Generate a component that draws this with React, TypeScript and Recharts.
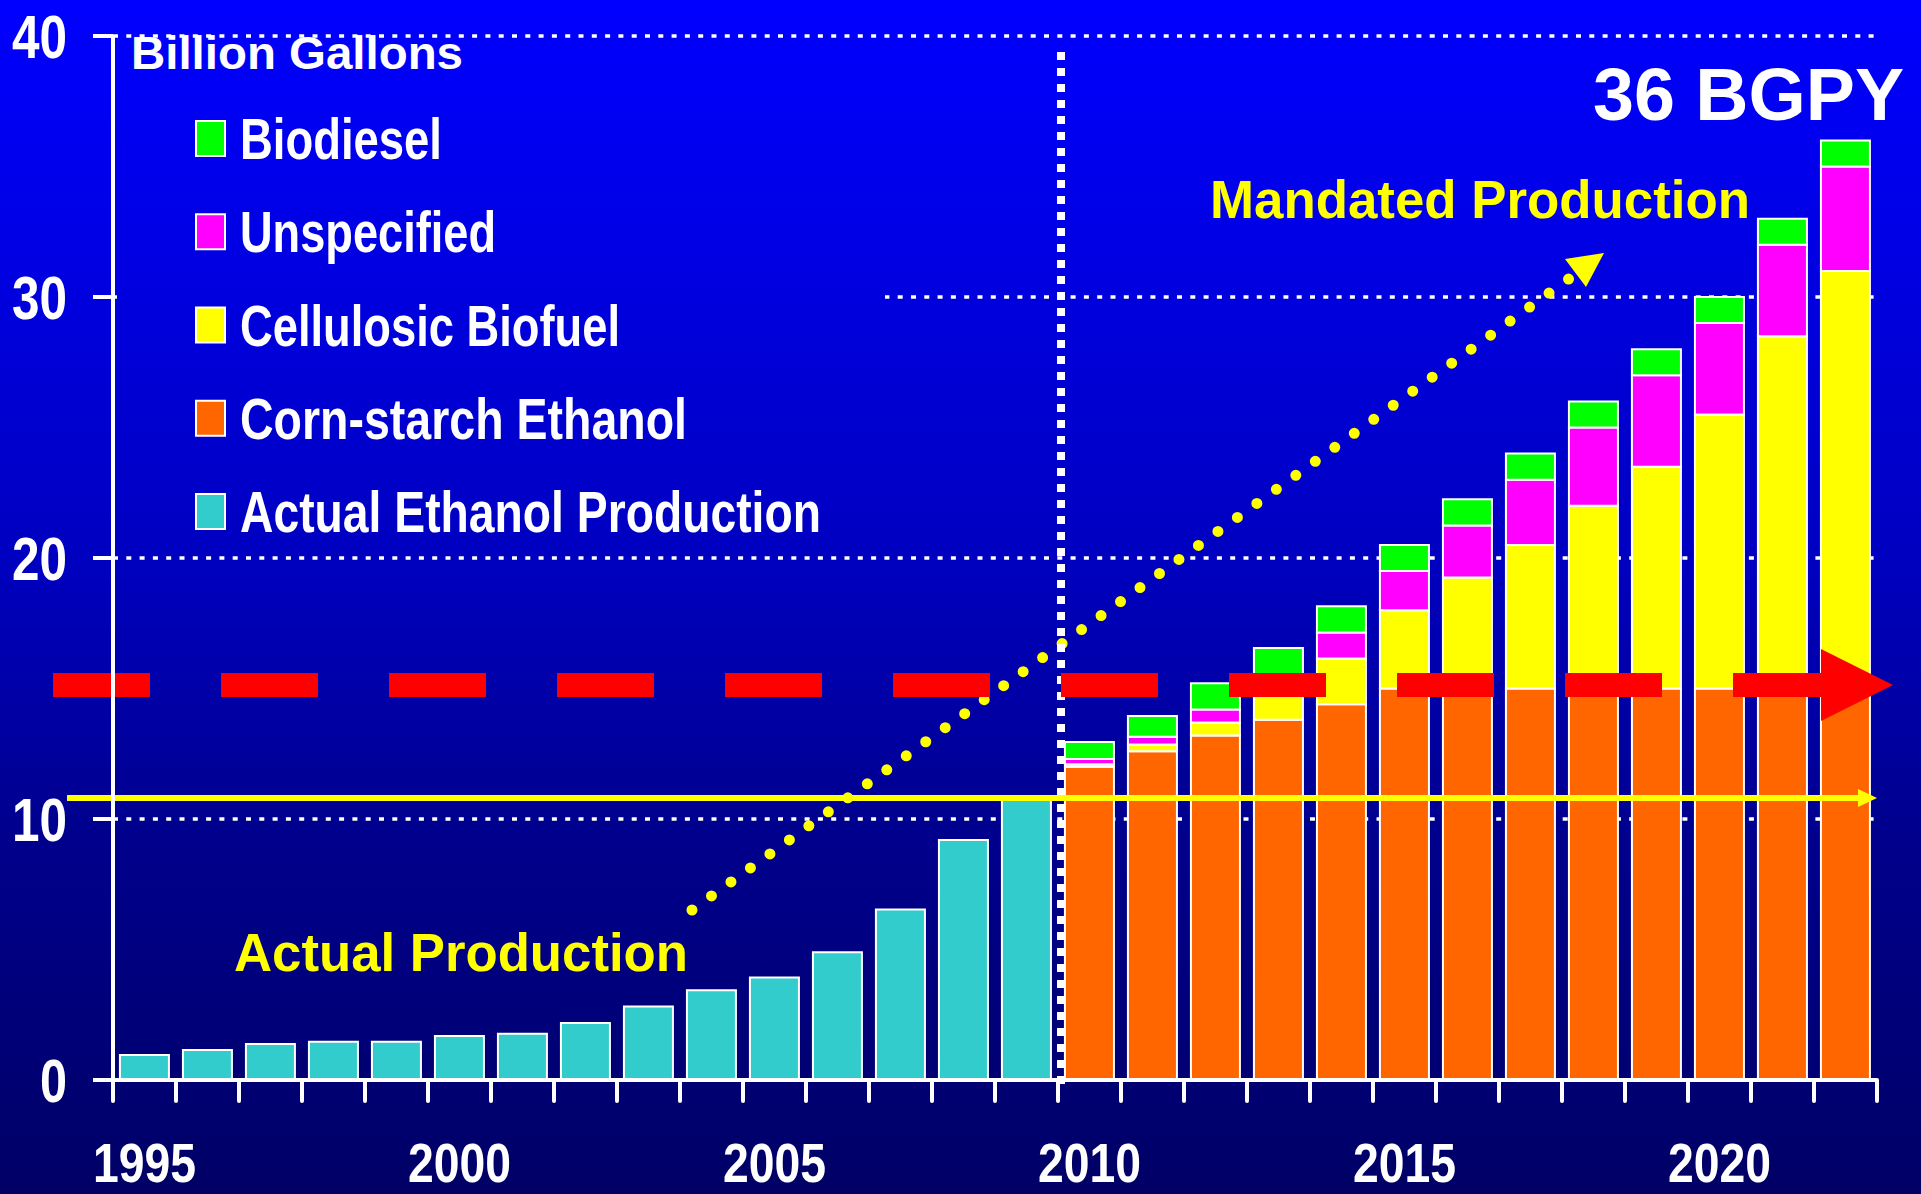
import React from 'react';
import { BarChart, Bar, XAxis, YAxis, CartesianGrid, ReferenceLine, Customized } from 'recharts';

// ---------- data ----------
const years = [
  1995, 1996, 1997, 1998, 1999, 2000, 2001, 2002, 2003, 2004, 2005, 2006, 2007, 2008,
  2009, 2010, 2011, 2012, 2013, 2014, 2015, 2016, 2017, 2018, 2019, 2020, 2021, 2022,
];
const actualEthanol = [
  0.96, 1.15, 1.38, 1.47, 1.47, 1.69, 1.77, 2.18, 2.82, 3.44, 3.93, 4.89, 6.53, 9.2, 10.75,
  null, null, null, null, null, null, null, null, null, null, null, null, null,
];
const cornStarch = [
  null, null, null, null, null, null, null, null, null, null, null, null, null, null, null,
  12, 12.6, 13.2, 13.8, 14.4, 15, 15, 15, 15, 15, 15, 15, 15,
];
const cellulosic = [
  null, null, null, null, null, null, null, null, null, null, null, null, null, null, null,
  0.1, 0.25, 0.5, 1.0, 1.75, 3.0, 4.25, 5.5, 7.0, 8.5, 10.5, 13.5, 16.0,
];
const unspecified = [
  null, null, null, null, null, null, null, null, null, null, null, null, null, null, null,
  0.2, 0.3, 0.5, 0.75, 1.0, 1.5, 2.0, 2.5, 3.0, 3.5, 3.5, 3.5, 4.0,
];
const biodiesel = [
  null, null, null, null, null, null, null, null, null, null, null, null, null, null, null,
  0.65, 0.8, 1.0, 1.0, 1.0, 1.0, 1.0, 1.0, 1.0, 1.0, 1.0, 1.0, 1.0,
];
const yTicks = [0, 10, 20, 30, 40];
const labeledYears = [1995, 2000, 2005, 2010, 2015, 2020];
const legendLabels = ['Biodiesel', 'Unspecified', 'Cellulosic Biofuel', 'Corn-starch Ethanol', 'Actual Ethanol Production'];
const mandateLevel = 15;
const actualLevel = 10.8;
const mandateStartYear = '2010';

// ---------- styles ----------
const FONT = "'Liberation Sans', Arial, Helvetica, sans-serif";
const COLORS = {
  biodiesel: '#00FF00',
  unspecified: '#FF00FF',
  cellulosic: '#FFFF00',
  corn: '#FF6600',
  actual: '#33CCCC',
};
const legendColors = [COLORS.biodiesel, COLORS.unspecified, COLORS.cellulosic, COLORS.corn, COLORS.actual];
const legendTextWidths = [202, 256, 380, 447, 581];
const GRAD_STOPS = [
  { o: '0%', c: 'rgb(0,0,255)' },
  { o: '25%', c: 'rgb(0,0,222)' },
  { o: '47%', c: 'rgb(0,0,192)' },
  { o: '69%', c: 'rgb(0,0,143)' },
  { o: '100%', c: 'rgb(0,0,102)' },
];

const data = years.map((y, i) => ({
  year: String(y),
  actual: actualEthanol[i],
  corn: cornStarch[i],
  cellulosic: cellulosic[i],
  unspecified: unspecified[i],
  biodiesel: biodiesel[i],
}));

const W = 1921;
const H = 1194;

const XTick = (props: any) => {
  const { x, y, payload, index } = props;
  const half = payload && typeof payload.offset === 'number' && payload.offset > 0 ? payload.offset : 31.5;
  const yr = Number(payload.value);
  return (
    <g>
      <line x1={x - half} x2={x - half} y1={y} y2={y + 21} stroke="#fff" strokeWidth={4} strokeLinecap="round" />
      {index === years.length - 1 && (
        <line x1={x + half} x2={x + half} y1={y} y2={y + 21} stroke="#fff" strokeWidth={4} strokeLinecap="round" />
      )}
      {labeledYears.includes(yr) && (
        <text
          x={x - 51.5}
          y={y + 102}
          fontSize={56}
          fontWeight="bold"
          fill="#fff"
          fontFamily={FONT}
          textLength={103}
          lengthAdjust="spacingAndGlyphs"
        >
          {yr}
        </text>
      )}
    </g>
  );
};

const YTick = (props: any) => {
  const { x, y, payload } = props;
  const s = String(payload.value);
  const w = s.length === 1 ? 27 : 55;
  return (
    <text
      x={x - w}
      y={y + 22}
      fontSize={62}
      fontWeight="bold"
      fill="#fff"
      fontFamily={FONT}
      textLength={w}
      lengthAdjust="spacingAndGlyphs"
    >
      {s}
    </text>
  );
};

const MandateArrow = (p: any) => {
  const left = Math.min(p.x1, p.x2);
  const right = Math.max(p.x1, p.x2);
  const y = p.y1 - 3.5;
  const start = left - 60;
  const headBase = right - 56;
  const tip = right + 16;
  return (
    <g>
      <line x1={start} y1={y} x2={headBase} y2={y} stroke="#FF0000" strokeWidth={24} strokeDasharray="97 71" />
      <polygon points={`${headBase},${y - 36} ${tip},${y} ${headBase},${y + 36}`} fill="#FF0000" />
    </g>
  );
};

const ActualArrow = (p: any) => {
  const left = Math.min(p.x1, p.x2);
  const right = Math.max(p.x1, p.x2);
  const y = p.y1;
  return (
    <g>
      <line x1={left - 46} y1={y} x2={right - 18} y2={y} stroke="#FFFF00" strokeWidth={6} />
      <polygon points={`${right - 19},${y - 9} ${right},${y} ${right - 19},${y + 9}`} fill="#FFFF00" />
    </g>
  );
};

const Divider = (p: any) => {
  const top = Math.min(p.y1, p.y2);
  const bottom = Math.max(p.y1, p.y2);
  const x = p.x1 + 3;
  return <line x1={x} x2={x} y1={top + 16} y2={bottom + 4} stroke="#fff" strokeWidth={8} strokeDasharray="8 8" />;
};

const Overlay = () => (
  <g>
    <defs>
      <linearGradient id="bgGrad" gradientUnits="userSpaceOnUse" x1={0} y1={0} x2={0} y2={H}>
        {GRAD_STOPS.map((s) => (
          <stop key={s.o} offset={s.o} stopColor={s.c} />
        ))}
      </linearGradient>
    </defs>
    {/* legend panel hides part of the 30 gridline */}
    <rect x={117} y={290} width={768} height={16} fill="url(#bgGrad)" />
    <text x={131} y={69} fontSize={46} fontWeight="bold" fill="#fff" fontFamily={FONT} textLength={332} lengthAdjust="spacingAndGlyphs">
      Billion Gallons
    </text>
    {legendLabels.map((label, i) => {
      const base = 159 + i * 93.25;
      return (
        <g key={label}>
          <rect x={196} y={base - 38} width={29} height={35} fill={legendColors[i]} stroke="#fff" strokeWidth={2} />
          <text
            x={240}
            y={base}
            fontSize={57}
            fontWeight="bold"
            fill="#fff"
            fontFamily={FONT}
            textLength={legendTextWidths[i]}
            lengthAdjust="spacingAndGlyphs"
          >
            {label}
          </text>
        </g>
      );
    })}
    <text x={1593} y={120} fontSize={74} fontWeight="bold" fill="#fff" fontFamily={FONT} textLength={311} lengthAdjust="spacingAndGlyphs">
      36 BGPY
    </text>
    <text x={1210} y={218} fontSize={54} fontWeight="bold" fill="#FFFF00" fontFamily={FONT} textLength={540} lengthAdjust="spacingAndGlyphs">
      Mandated Production
    </text>
    <text x={234} y={971} fontSize={54} fontWeight="bold" fill="#FFFF00" fontFamily={FONT} textLength={454} lengthAdjust="spacingAndGlyphs">
      Actual Production
    </text>
    {/* dotted trend arrow */}
    <line x1={692} y1={910} x2={1570} y2={278} stroke="#FFFF00" strokeWidth={11} strokeLinecap="round" strokeDasharray="0 24" />
    <polygon points="1565,259 1604,253 1586,287" fill="#FFFF00" />
  </g>
);

export default function App() {
  return (
    <div
      style={{
        position: 'absolute',
        left: 0,
        top: 0,
        width: W,
        height: H,
        overflow: 'hidden',
        background:
          'linear-gradient(to bottom, rgb(0,0,255) 0%, rgb(0,0,222) 25%, rgb(0,0,192) 47%, rgb(0,0,143) 69%, rgb(0,0,102) 100%)',
      }}
    >
      <BarChart
        width={W}
        height={H}
        data={data}
        margin={{ top: 36, right: 44, bottom: 0, left: 0 }}
        barCategoryGap="11%"
      >
        <CartesianGrid vertical={false} stroke="#fff" strokeWidth={3.5} strokeDasharray="5 8.3" />
        <XAxis
          dataKey="year"
          interval={0}
          height={114}
          tickLine={false}
          tickSize={0}
          tickMargin={0}
          axisLine={{ stroke: '#fff', strokeWidth: 4 }}
          tick={<XTick />}
        />
        <YAxis
          domain={[0, 40]}
          ticks={yTicks}
          width={113}
          tickSize={20}
          tickMargin={26}
          axisLine={{ stroke: '#fff', strokeWidth: 4 }}
          tickLine={{ stroke: '#fff', strokeWidth: 4 }}
          tick={<YTick />}
        />
        <Bar dataKey="actual" stackId="s" fill={COLORS.actual} stroke="#fff" strokeWidth={2} isAnimationActive={false} />
        <Bar dataKey="corn" stackId="s" fill={COLORS.corn} stroke="#fff" strokeWidth={2} isAnimationActive={false} />
        <Bar dataKey="cellulosic" stackId="s" fill={COLORS.cellulosic} stroke="#fff" strokeWidth={2} isAnimationActive={false} />
        <Bar dataKey="unspecified" stackId="s" fill={COLORS.unspecified} stroke="#fff" strokeWidth={2} isAnimationActive={false} />
        <Bar dataKey="biodiesel" stackId="s" fill={COLORS.biodiesel} stroke="#fff" strokeWidth={2} isAnimationActive={false} />
        <ReferenceLine x={mandateStartYear} position="start" ifOverflow="visible" shape={Divider} />
        <ReferenceLine y={actualLevel} ifOverflow="visible" shape={ActualArrow} />
        <ReferenceLine y={mandateLevel} ifOverflow="visible" shape={MandateArrow} />
        <Customized component={Overlay} />
      </BarChart>
    </div>
  );
}
